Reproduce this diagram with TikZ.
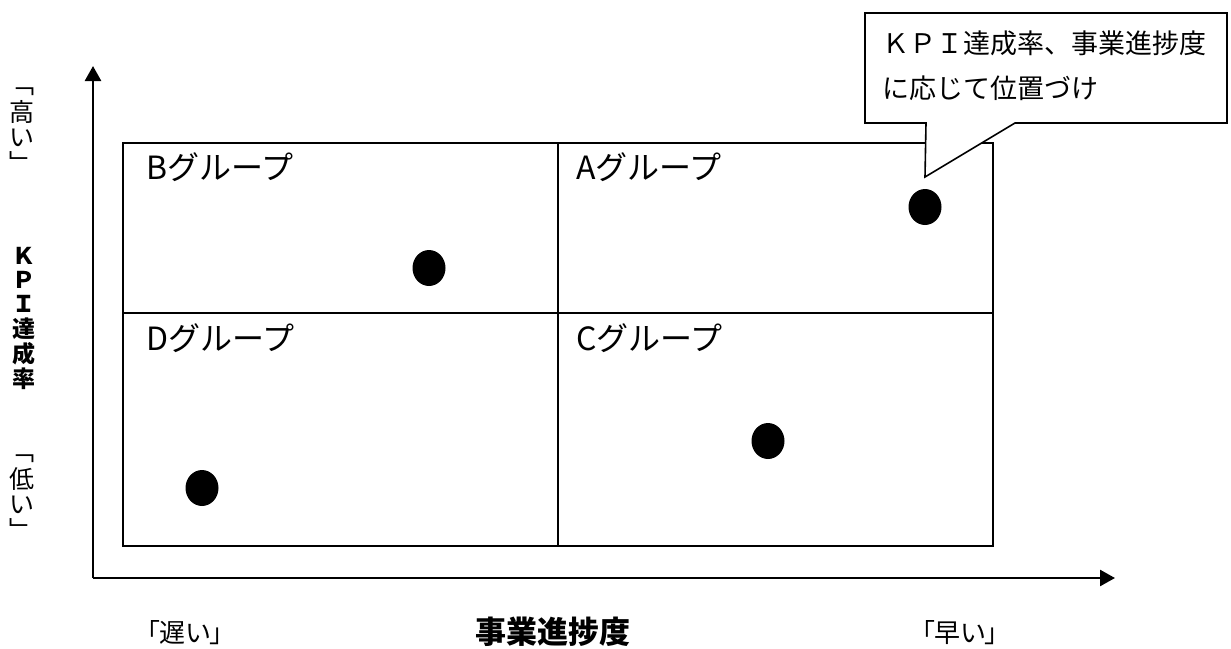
\documentclass[tikz,border=0pt]{standalone}
\usepackage{fontspec}
\setmainfont{Noto Sans CJK JP}
\newfontfamily\jpp{Noto Sans CJK JP}[RawFeature=+palt]
\usetikzlibrary{arrows.meta,shapes.geometric}
\tikzset{
  cell/.style={draw, line width=1.6pt, minimum width=435pt, inner sep=0pt, outer sep=0pt},
  glabel/.style={anchor=west, inner sep=0pt, font=\fontsize{32}{34}\selectfont},
  dot/.style={ellipse, fill=black, minimum width=33pt, minimum height=36pt, inner sep=0pt},
  axis/.style={line width=2.6pt, -{Triangle[length=15pt,width=16pt]}},
  vch/.style={inner sep=0pt, font=\fontsize{25}{25}\selectfont},
  vchb/.style={inner sep=0pt, font=\fontsize{23}{23}\selectfont\bfseries},
  blab/.style={inner sep=0pt, font=\jpp\fontsize{26}{26}\selectfont},
  callout/.style={draw, fill=white, line width=1.6pt, line join=miter},
  ctext/.style={anchor=west, inner sep=0pt, font=\fontsize{27}{27}\selectfont}
}
\begin{document}
\begin{tikzpicture}[x=1pt,y=-1pt]
\useasboundingbox (0,0) rectangle (1231,648);
% grid cells
\node[cell, minimum height=170pt, anchor=north west] (B) at (123,143) {};
\node[cell, minimum height=170pt, anchor=north west] (A) at (558,143) {};
\node[cell, minimum height=233pt, anchor=north west] (D) at (123,313) {};
\node[cell, minimum height=233pt, anchor=north west] (C) at (558,313) {};
% group labels
\node[glabel] (Bl) at (146,167) {Bグループ};
\node[glabel] (Al) at (576,167) {Aグループ};
\node[glabel] (Dl) at (146,338) {Dグループ};
\node[glabel] (Cl) at (576,338) {Cグループ};
% dots
\node[dot] (Bd) at (429,268) {};
\node[dot] (Ad) at (925,207) {};
\node[dot] (Dd) at (202,488) {};
\node[dot] (Cd) at (768,441) {};
% axes
\coordinate (O) at (93,578);
\coordinate (yt) at (93,66);
\coordinate (xt) at (1115,578);
\draw[axis] (O) -- (yt);
\draw[axis] (O) -- (xt);
% callout
\draw[callout] (865,13) -- (1227,13) -- (1227,123) -- (1015,123) -- (925,177) -- (926,123) -- (865,123) -- cycle;
\node[ctext] (c1) at (882,43) {ＫＰＩ達成率、事業進捗度};
\node[ctext] (c2) at (882,88) {に応じて位置づけ};
% left vertical labels
\node[vch] (h1) at (22,92) {﹁};
\node[vch] (h2) at (22,112) {高};
\node[vch] (h3) at (22,138) {い};
\node[vch] (h4) at (22,162) {﹂};
\node[vchb] (k1) at (24,256) {Ｋ};
\node[vchb] (k2) at (24,280) {Ｐ};
\node[vchb] (k3) at (24,304) {Ｉ};
\node[vchb] (k4) at (24,329) {達};
\node[vchb] (k5) at (24,354) {成};
\node[vchb] (k6) at (24,379) {率};
\node[vch] (l1) at (22,459) {﹁};
\node[vch] (l2) at (22,479) {低};
\node[vch] (l3) at (22,505) {い};
\node[vch] (l4) at (22,529) {﹂};
% bottom labels
\node[blab] (slow) at (185,633) {「遅い」};
\node[blab, font=\fontsize{31}{31}\selectfont\bfseries] (prog) at (553,632) {事業進捗度};
\node[blab] (fast) at (960,633) {「早い」};
\end{tikzpicture}
\end{document}
